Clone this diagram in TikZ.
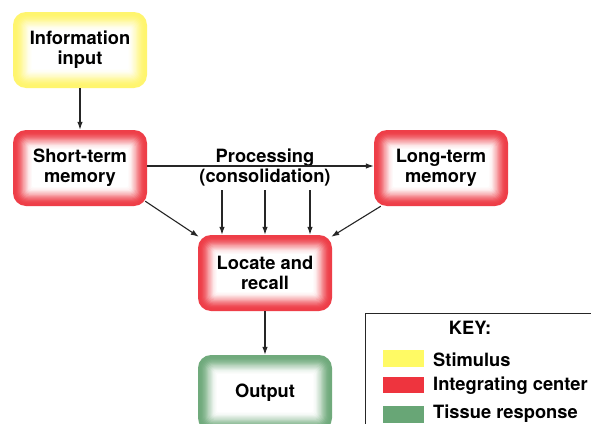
\documentclass[tikz,border=0pt]{standalone}
\usepackage{fontspec}
\setmainfont{TeX Gyre Heros}
\usetikzlibrary{calc,arrows.meta}
\definecolor{cyel}{RGB}{255,245,110}
\definecolor{cred}{RGB}{238,62,72}
\definecolor{cgrn}{RGB}{112,170,124}
\definecolor{kyel}{RGB}{255,250,100}
\definecolor{kred}{RGB}{238,52,62}
\definecolor{kgrn}{RGB}{104,166,118}
\tikzset{
  lbl/.style={font=\fontsize{18.3}{20}\selectfont\bfseries, align=center, inner sep=0pt},
  boxnode/.style={lbl, minimum width=134pt, minimum height=76pt},
  arr/.style={-{Latex[length=8pt,width=5.5pt]}, line width=1.1pt, black!85},
  keytxt/.style={font=\fontsize{18.3}{20}\selectfont\bfseries, anchor=west, inner sep=0pt},
}
\newcommand{\glowbox}[4]{%
  \foreach \i/\p in {0/100,1/100,2/98,3/94,4/88,5/80,6/70,7/60,8/50,9/40,10/30,11/21,12/13,13/7,14/3,15/0} {
    \pgfmathsetmacro\rr{max(13-\i*0.9,2)}
    \fill[#3!\p!white, rounded corners=\rr pt]
      ($(#2)+(-67+\i*1.25,-38+\i*1.25)$) rectangle ($(#2)+(67-\i*1.25,38-\i*1.25)$);
  }
  \node[boxnode] (#1) at (#2) {#4};
}
\begin{document}
\begin{tikzpicture}[x=1pt,y=-1pt]
\useasboundingbox (0,0) rectangle (591,423);
\clip (0,0) rectangle (591,423);
\fill[white] (0,0) rectangle (591,423);

\glowbox{inp}{80,50}{cyel}{Information\\input}
\glowbox{stm}{80,168}{cred}{Short-term\\memory}
\glowbox{ltm}{441,168}{cred}{Long-term\\memory}
\glowbox{loc}{265,273}{cred}{Locate and\\recall}
\glowbox{out}{265,393}{cgrn}{Output}

\node[lbl] (proc) at (265,168) {Processing\\(consolidation)};

\draw[arr] (inp.south) -- (stm.north);
\draw[arr] ([yshift=2pt]stm.east) -- ([yshift=2pt]ltm.west);
\coordinate (p1) at (222,190);
\coordinate (p2) at (265,190);
\coordinate (p3) at (310,190);
\draw[arr] (p1) -- (p1 |- loc.north);
\draw[arr] (p2) -- (p2 |- loc.north);
\draw[arr] (p3) -- (p3 |- loc.north);
\draw[arr] ([xshift=-2pt,yshift=5pt]stm.south east) -- ([xshift=1pt,yshift=-2pt]loc.north west);
\draw[arr] ([xshift=7pt]ltm.south west) -- ([xshift=-1pt,yshift=-2pt]loc.north east);
\draw[arr] (loc.south) -- (out.north);

% key
\node[draw=black!85, line width=1.2pt, minimum width=240pt, minimum height=130pt, anchor=north west, inner sep=0pt] (key) at (365,313) {};
\node[lbl] (keyt) at (470,328) {KEY:};
\fill[kyel] (383,350) rectangle (424,367);
\fill[kred] (383,377) rectangle (424,393);
\fill[kgrn] (383,406) rectangle (424,423);
\node[keytxt] (k1) at (433,360) {Stimulus};
\node[keytxt] (k2) at (433,386) {Integrating center};
\node[keytxt] (k3) at (433,414) {Tissue response};
\end{tikzpicture}
\end{document}
